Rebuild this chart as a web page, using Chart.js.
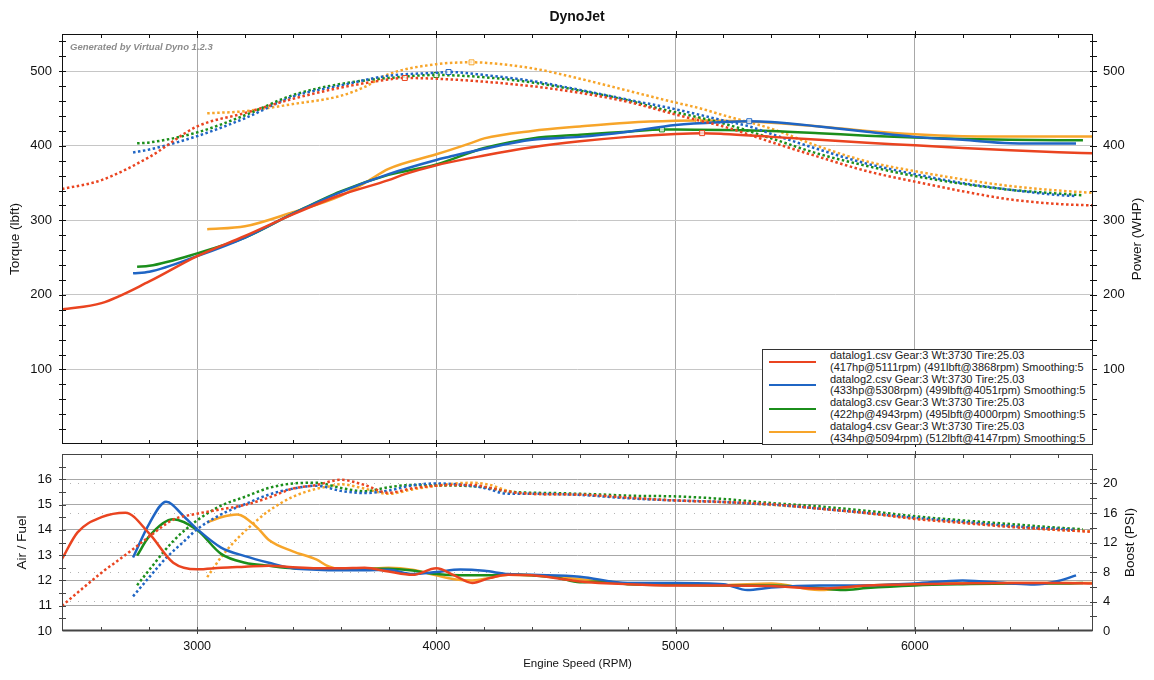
<!DOCTYPE html>
<html>
<head>
<meta charset="utf-8">
<title>DynoJet</title>
<script src="https://cdn.jsdelivr.net/npm/chart.js@4.4.1/dist/chart.umd.min.js"></script>
<style>
  body { margin: 0; background: #fff; font-family: Arial, "Liberation Sans", sans-serif; }
  #wrap { position: relative; width: 1154px; height: 680px; overflow: hidden; background: #fff; }
  #wrap canvas { position: absolute; left: 0; }
  #topChart { top: 0; }
  #bottomChart { top: 450px; }
  #title { position: absolute; top: 8px; left: 0; width: 1154px; text-align: center; font-weight: bold; font-size: 14px; color: #111; }
  #stamp { position: absolute; left: 70px; top: 41px; font-size: 9.5px; font-weight: bold; font-style: italic; color: #8c8c8c; }
  #legend { position: absolute; left: 762px; top: 349px; width: 331px; height: 96px; border: 1px solid #333; background: #fff; box-sizing: border-box; }
  .row { position: relative; height: 23.6px; }
  .row .swatch { position: absolute; left: 6px; top: 10.5px; width: 47px; height: 0; border-top: 2.5px solid; }
  .row .txt { position: absolute; left: 67px; top: 0; font-size: 11px; line-height: 11.8px; color: #222; white-space: nowrap; }
</style>
</head>
<body>
<div id="wrap">
  <canvas id="topChart" width="1154" height="450"></canvas>
  <canvas id="bottomChart" width="1154" height="230"></canvas>
  <div id="title">DynoJet</div>
  <div id="stamp">Generated by Virtual Dyno 1.2.3</div>
  <div id="legend"></div>
</div>
<script>
// ---- data ----
const rpmTicks = [3000, 4000, 5000, 6000];
const afrTicks = [10, 11, 12, 13, 14, 15, 16];
const boostTicks = [0, 2, 4, 6, 8, 10, 12, 14, 16, 18, 20, 22];

// datalog1 (red)
const rpm1 = [2435, 2600, 2800, 3000, 3200, 3400, 3600, 3800, 3868, 4000, 4200, 4400, 4600, 4800, 5000, 5111, 5200, 5400, 5600, 5800, 6000, 6200, 6400, 6600, 6745];
const torque1 = [342, 354, 385, 426, 444, 463, 478, 489, 491, 490, 486, 480, 471, 459, 442, 433, 426, 405, 385, 366, 352, 339, 328, 322, 320];
const power1 = [180.5, 189, 218, 252, 279, 308, 334, 354, 362, 374, 387, 398, 406, 412, 416, 417, 416, 412, 408, 404, 400.7, 397, 394, 391.5, 390];
// datalog2 (blue)
const rpm2 = [2732, 2800, 3000, 3200, 3400, 3600, 3800, 4000, 4051, 4200, 4400, 4600, 4800, 5000, 5200, 5308, 5400, 5600, 5800, 6000, 6200, 6400, 6600, 6674];
const torque2 = [391, 395, 413, 437, 466, 481, 494, 498, 499, 495, 487, 475, 462, 449, 434, 426, 416, 395, 376, 362, 350, 341, 334, 332.6];
const power2 = [229, 231, 252, 277, 309, 338, 362, 381, 385, 396, 408, 412, 419, 428, 432, 433, 432, 426, 419, 412, 408, 403.5, 403, 403];
// datalog3 (green)
const rpm3 = [2749, 2800, 3000, 3200, 3400, 3600, 3800, 4000, 4200, 4400, 4600, 4800, 4943, 5000, 5200, 5400, 5600, 5800, 6000, 6200, 6400, 6600, 6703];
const torque3 = [403.4, 404.5, 418, 441, 468, 483, 491, 495, 492, 485, 474, 461, 449, 445, 430, 410, 389, 373, 359.5, 349, 341, 336, 333.6];
const power3 = [237.8, 239, 255.7, 277, 309, 339, 361, 375, 397, 410, 415, 419, 422, 421.8, 421.3, 420, 417, 413.5, 411, 409, 408, 407.5, 407.4];
// datalog4 (orange)
const rpm4 = [3042, 3200, 3400, 3600, 3700, 3800, 4000, 4147, 4200, 4400, 4600, 4800, 5000, 5094, 5200, 5400, 5600, 5800, 6000, 6200, 6400, 6600, 6745];
const torque4 = [443.6, 446.5, 456, 467, 479, 496, 509.5, 512, 511.5, 504, 490, 474, 458, 451, 441, 423, 399, 379, 366, 355, 346, 340, 337];
const power4 = [288, 292, 311, 333, 350, 369, 388.6, 404, 410, 420, 426, 431, 433.6, 434, 433.6, 431, 426, 420, 415.4, 413, 412.6, 412.5, 412.5];

// lower panel: air/fuel and boost
const afrRpm1 = [2435, 2500, 2600, 2700, 2800, 2900, 3000, 3100, 3200, 3300, 3400, 3500, 3600, 3700, 3800, 3900, 4000, 4075, 4150, 4225, 4300, 4400, 4600, 4800, 5000, 5200, 5400, 5600, 5800, 6000, 6200, 6400, 6600, 6745];
const afr1 = [12.85, 13.9, 14.5, 14.68, 13.85, 12.7, 12.44, 12.5, 12.54, 12.58, 12.52, 12.48, 12.48, 12.5, 12.35, 12.22, 12.48, 12.2, 11.9, 12.1, 12.22, 12.2, 11.96, 11.85, 11.8, 11.8, 11.78, 11.68, 11.8, 11.85, 11.88, 11.9, 11.9, 11.88];
const boost1 = [3.4, 5.2, 7.9, 10.3, 12.8, 15.1, 15.9, 16.5, 17.1, 18.1, 19.3, 19.8, 20.5, 19.8, 18.75, 19.35, 19.7, 19.8, 19.8, 19.4, 18.9, 18.6, 18.5, 18.1, 17.7, 17.5, 17.2, 16.6, 16.0, 15.2, 14.65, 14.1, 13.7, 13.45];

const afrRpm2 = [2732, 2800, 2870, 2950, 3000, 3100, 3200, 3300, 3400, 3500, 3600, 3700, 3800, 3900, 4000, 4100, 4200, 4300, 4400, 4600, 4800, 5000, 5200, 5300, 5400, 5600, 5800, 6000, 6200, 6400, 6500, 6600, 6674];
const afr2 = [12.91, 14.25, 15.11, 14.48, 14.03, 13.3, 12.96, 12.7, 12.48, 12.42, 12.4, 12.4, 12.42, 12.25, 12.33, 12.43, 12.38, 12.25, 12.22, 12.15, 11.9, 11.9, 11.85, 11.62, 11.72, 11.8, 11.8, 11.88, 12.0, 11.88, 11.84, 11.98, 12.2];
const boost2 = [4.7, 7.3, 9.9, 12.3, 13.8, 15.8, 17.2, 18.5, 19.3, 19.7, 19.0, 18.7, 19.05, 19.75, 20.0, 19.85, 19.4, 18.6, 18.6, 18.45, 18.0, 17.7, 17.5, 17.3, 17.15, 16.6, 16.0, 15.35, 14.8, 14.25, 14.0, 13.85, 13.7];

const afrRpm3 = [2749, 2800, 2900, 3000, 3100, 3200, 3300, 3400, 3500, 3600, 3700, 3800, 3900, 4000, 4100, 4200, 4300, 4400, 4500, 4600, 4700, 4800, 5000, 5200, 5400, 5600, 5700, 5800, 6000, 6200, 6400, 6600, 6703];
const afr3 = [12.98, 13.75, 14.42, 13.99, 13.05, 12.7, 12.58, 12.48, 12.46, 12.45, 12.46, 12.46, 12.39, 12.25, 12.2, 12.2, 12.23, 12.2, 12.12, 11.93, 11.97, 11.85, 11.82, 11.8, 11.8, 11.7, 11.62, 11.7, 11.8, 11.85, 11.88, 11.88, 11.9];
const boost3 = [6.2, 8.3, 12.2, 15.0, 17.0, 18.2, 19.4, 20.0, 20.1, 19.4, 18.95, 19.5, 19.8, 19.75, 19.7, 19.5, 18.9, 18.75, 18.7, 18.6, 18.5, 18.35, 18.25, 17.9, 17.35, 16.9, 16.6, 16.3, 15.55, 15.0, 14.5, 14.0, 13.8];

const afrRpm4 = [3042, 3100, 3167, 3250, 3300, 3400, 3500, 3550, 3600, 3700, 3800, 3900, 4000, 4075, 4150, 4225, 4300, 4400, 4600, 4800, 5000, 5200, 5400, 5600, 5800, 6000, 6200, 6400, 6600, 6745];
const afr4 = [14.29, 14.5, 14.61, 14.1, 13.6, 13.15, 12.82, 12.55, 12.44, 12.45, 12.5, 12.42, 12.2, 12.05, 12.0, 12.1, 12.22, 12.2, 12.05, 11.87, 11.87, 11.82, 11.88, 11.62, 11.8, 11.85, 11.9, 11.9, 11.9, 11.9];
const boost4 = [7.3, 10.0, 12.5, 15.0, 16.3, 18.2, 19.3, 19.6, 19.9, 19.3, 18.6, 19.2, 19.7, 20.0, 20.1, 19.8, 19.0, 18.6, 18.5, 18.05, 17.7, 17.45, 17.1, 16.6, 15.95, 15.25, 14.7, 14.2, 13.7, 13.5];

const legendLines = [
  ['datalog1.csv Gear:3 Wt:3730 Tire:25.03', '(417hp@5111rpm) (491lbft@3868rpm) Smoothing:5'],
  ['datalog2.csv Gear:3 Wt:3730 Tire:25.03', '(433hp@5308rpm) (499lbft@4051rpm) Smoothing:5'],
  ['datalog3.csv Gear:3 Wt:3730 Tire:25.03', '(422hp@4943rpm) (495lbft@4000rpm) Smoothing:5'],
  ['datalog4.csv Gear:3 Wt:3730 Tire:25.03', '(434hp@5094rpm) (512lbft@4147rpm) Smoothing:5']
];

const RED = '#ea4420', BLUE = '#1f65c4', GREEN = '#1b8e1b', ORANGE = '#f7a52a';
const colors = [RED, BLUE, GREEN, ORANGE];
const xMin = 2435, xMax = 6745;
const titleFont = '13.5px Arial, "Liberation Sans", sans-serif';

Chart.defaults.font.family = 'Arial, "Liberation Sans", sans-serif';
Chart.defaults.color = '#111';

function pts(rpm, vals) {
  return rpm.map((r, i) => ({ x: r, y: vals[i] }));
}

function line(color, rpm, vals, axis, dotted, marker) {
  const ds = {
    data: pts(rpm, vals),
    yAxisID: axis,
    borderColor: color,
    backgroundColor: color,
    borderWidth: 2.5,
    fill: false,
    cubicInterpolationMode: 'monotone',
    pointRadius: 0,
    pointHoverRadius: 0
  };
  if (dotted) ds.borderDash = [2.5, 2.5];
  if (marker) {
    //open square at the peak value
    const m = vals.indexOf(Math.max(...vals));
    ds.pointRadius = c => c.dataIndex === m ? 3.5 : 0;
    ds.pointStyle = 'rect';
    ds.pointBorderWidth = 1;
    ds.pointBackgroundColor = 'rgba(255,255,255,0.7)';
  }
  return ds;
}

//frame, small tick marks and rotated side titles
const frame = {
  id: 'frame',
  afterDraw(chart, args, o) {
    const { ctx, chartArea: a, scales } = chart;
    ctx.save();
    ctx.strokeStyle = o.color;
    ctx.lineWidth = 1;
    const x = scales.x;
    for (let v = Math.ceil(xMin / 200) * 200; v <= xMax; v += 200) {
      const px = Math.round(x.getPixelForValue(v)) + 0.5;
      const big = v % 1000 === 0;
      ctx.beginPath();
      ctx.moveTo(px, a.top - (big ? 3 : 0));
      ctx.lineTo(px, a.top + 4);
      ctx.moveTo(px, a.bottom + (big ? 3 : 0));
      ctx.lineTo(px, a.bottom - 4);
      ctx.stroke();
    }
    [['y', a.left, o.leftStep], ['y1', a.right, o.rightStep]].forEach(([id, ex, step]) => {
      const s = scales[id];
      for (let v = s.min + step; v < s.max - 1e-6; v += step) {
        const py = Math.round(s.getPixelForValue(v)) + 0.5;
        ctx.beginPath();
        ctx.moveTo(ex - 3, py);
        ctx.lineTo(ex + 4, py);
        ctx.stroke();
      }
    });
    const l = Math.round(a.left) + 0.5, t = Math.round(a.top) + 0.5;
    const r = Math.round(a.right) - 0.5, b = Math.round(a.bottom) - 0.5;
    ctx.strokeRect(l, t, r - l, b - t);
    if (o.bottomWidth) {
      ctx.lineWidth = o.bottomWidth;
      ctx.beginPath();
      ctx.moveTo(l, b);
      ctx.lineTo(r, b);
      ctx.stroke();
    }
    ctx.fillStyle = '#111';
    ctx.font = titleFont;
    ctx.textAlign = 'center';
    ctx.textBaseline = 'middle';
    const cy = (a.top + a.bottom) / 2;
    [[o.leftTitle, o.leftX], [o.rightTitle, chart.width - o.rightX]].forEach(([txt, tx]) => {
      ctx.save();
      ctx.translate(tx, cy);
      ctx.rotate(-Math.PI / 2);
      ctx.fillText(txt, 0, 0);
      ctx.restore();
    });
    ctx.restore();
  }
};

function fixedTicks(list) {
  return s => { s.ticks = list.map(v => ({ value: v })); };
}

//fixed axis width, and no extra room reserved for the end labels
function yFit(w) {
  return s => { s.width = w; s.paddingTop = 0; s.paddingBottom = 0; };
}

function xScale(showLabels, height) {
  return {
    type: 'linear', min: xMin, max: xMax,
    afterBuildTicks: fixedTicks(rpmTicks),
    ticks: { display: showLabels, padding: 8, font: { size: 12.5 }, callback: v => String(v) },
    grid: { color: '#a8a8a8', drawTicks: false },
    border: { display: false },
    title: showLabels ? { display: true, text: 'Engine Speed (RPM)', font: { size: 11.5 }, padding: { top: 0, bottom: 9 } } : { display: false },
    afterFit: s => { s.height = height; s.paddingLeft = 0; s.paddingRight = 0; }
  };
}

//top panel: torque (dotted) and power (solid)
const topSets = [
  [torque1, power1, rpm1], [torque2, power2, rpm2], [torque3, power3, rpm3], [torque4, power4, rpm4]
];
const topData = [];
topSets.forEach(([tq, hp, rpm], i) => {
  topData.push(line(colors[i], rpm, hp, 'y', false, true));
  topData.push(line(colors[i], rpm, tq, 'y', true, true));
});

new Chart(document.getElementById('topChart'), {
  type: 'line',
  data: { datasets: topData },
  options: {
    responsive: false, animation: false, events: [],
    layout: { padding: { top: 34, left: 0, right: 0, bottom: 0 } },
    plugins: {
      legend: { display: false }, tooltip: { enabled: false },
      frame: { color: '#111', leftStep: 20, rightStep: 20,
               leftTitle: 'Torque (lbft)', leftX: 15, rightTitle: 'Power (WHP)', rightX: 17 }
    },
    scales: {
      x: xScale(false, 6),
      y: {
        position: 'left', min: 0, max: 550,
        ticks: { stepSize: 100, includeBounds: false, padding: 10, font: { size: 13 }, callback: v => v === 0 ? '' : v },
        grid: { color: c => c.tick.value === 0 ? 'transparent' : '#c6c6c6', drawTicks: false },
        border: { display: false },
        afterFit: yFit(62)
      },
      y1: {
        position: 'right', min: 0, max: 550,
        ticks: { stepSize: 100, includeBounds: false, padding: 10, font: { size: 13 }, callback: v => v === 0 ? '' : v },
        grid: { drawOnChartArea: false, drawTicks: false },
        border: { display: false },
        afterFit: yFit(61)
      }
    }
  },
  plugins: [frame]
});

//bottom panel: air/fuel (solid) and boost (dotted)
const bottomSets = [
  [afrRpm1, afr1, boost1], [afrRpm2, afr2, boost2], [afrRpm3, afr3, boost3], [afrRpm4, afr4, boost4]
];
const bottomData = [];
bottomSets.forEach(([rpm, afr, boost], i) => {
  bottomData.push(line(colors[i], rpm, afr, 'y', false, false));
  bottomData.push(line(colors[i], rpm, boost, 'y1', true, false));
});

new Chart(document.getElementById('bottomChart'), {
  type: 'line',
  data: { datasets: bottomData },
  options: {
    responsive: false, animation: false, events: [],
    layout: { padding: { top: 4, left: 0, right: 0, bottom: 0 } },
    plugins: {
      legend: { display: false }, tooltip: { enabled: false },
      frame: { color: '#444', bottomWidth: 2, leftStep: 0.5, rightStep: 2,
               leftTitle: 'Air / Fuel', leftX: 22, rightTitle: 'Boost (PSI)', rightX: 24 }
    },
    scales: {
      x: xScale(true, 49),
      y: {
        position: 'left', min: 10, max: 17,
        afterBuildTicks: fixedTicks(afrTicks),
        ticks: { padding: 10, font: { size: 13 } },
        grid: { color: c => c.tick.value === 10 ? 'transparent' : '#a8a8a8', drawTicks: false },
        border: { display: false },
        afterFit: yFit(62)
      },
      y1: {
        position: 'right', min: 0, max: 24,
        afterBuildTicks: fixedTicks(boostTicks),
        ticks: { padding: 10, font: { size: 13 }, callback: v => v % 4 === 0 ? v : '' },
        grid: { color: c => c.tick.value === 0 ? 'transparent' : '#b4b4b4', drawTicks: false },
        border: { display: false, dash: [1, 7] },
        afterFit: yFit(61)
      }
    }
  },
  plugins: [frame]
});

//legend box
const legend = document.getElementById('legend');
legendLines.forEach((txt, i) => {
  const row = document.createElement('div');
  row.className = 'row';
  row.innerHTML = '<div class="swatch" style="border-color:' + colors[i] + '"></div>' +
    '<div class="txt">' + txt[0] + '<br>' + txt[1] + '</div>';
  legend.appendChild(row);
});
</script>
</body>
</html>
